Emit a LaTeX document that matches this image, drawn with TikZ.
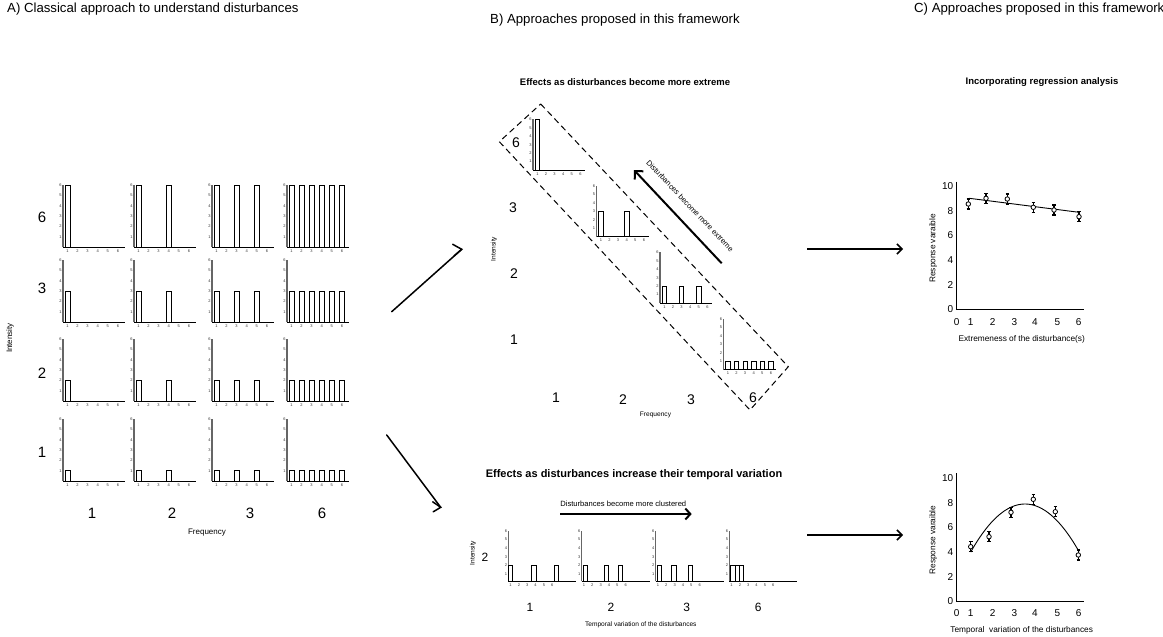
\documentclass[tikz,border=0pt]{standalone}
\usepackage{fontspec}
\setmainfont{Liberation Sans}
\usetikzlibrary{arrows.meta,calc}
\newcommand{\achart}[5]{% id, ox, oy, height, positions
  \draw[yax] (#2,#3) -- ++(0,-62);
  \draw[xax] (#2,#3) -- ++(62,0);
  \foreach \k in {1,...,6} {
    \node[tick,anchor=east] (#1y\k) at (#2-0.8,#3-\k*10.3) {\k};
    \node[tick,anchor=north] (#1x\k) at (#2+4.4+\k*10.1-10.1,#3+2) {\k};
  }
  \foreach \p in {#5} {
    \draw[barsty] (#2+1.9+\p*10.1-10.1,#3) rectangle ++(5,-#4*10.3);
  }
}
\newcommand{\bchart}[5]{% id, ox, oy, height, positions
  \draw[yax] (#2,#3) -- ++(0,-51);
  \draw[xax] (#2,#3) -- ++(52,0);
  \foreach \k in {1,...,6} {
    \node[tick,anchor=east] (#1y\k) at (#2-0.8,#3-\k*8.4) {\k};
    \node[tick,anchor=north] (#1x\k) at (#2+4.4+\k*8.6-8.6,#3+2) {\k};
  }
  \foreach \p in {#5} {
    \draw[barsty] (#2+2.25+\p*8.6-8.6,#3) rectangle ++(4.3,-#4*8.4);
  }
}
\newcommand{\cchart}[4]{% id, ox, oy, bar centre offsets
  \draw[yax] (#2,#3) -- ++(0,-50);
  \draw[xax] (#2,#3) -- ++(68,0);
  \foreach \k in {1,...,6} {
    \node[tick,anchor=east] (#1y\k) at (#2-0.8,#3-7-\k*8.6+8.6) {\k};
    \node[tick,anchor=north] (#1x\k) at (#2+2.3+\k*8.33-8.33,#3+2) {\k};
  }
  \foreach \p in {#4} {
    \draw[barsty] (#2+\p-2.15,#3) rectangle ++(4.3,-15.3);
  }
}
\begin{document}
\begin{tikzpicture}[x=1pt,y=-1pt,
  yax/.style={draw=black!60,line width=1.3pt},
  xax/.style={draw=black,line width=1pt},
  barsty/.style={draw=black,fill=white,line width=0.7pt},
  tick/.style={font=\fontsize{4}{4}\selectfont,text=black!80,inner sep=0.3pt},
  head/.style={font=\fontsize{13.2}{15}\selectfont,inner sep=0pt},
  ttl/.style={font=\bfseries\fontsize{9.5}{11}\selectfont,inner sep=0pt},
  big/.style={font=\fontsize{15}{16}\selectfont,inner sep=0pt},
  mid/.style={font=\fontsize{14}{15}\selectfont,inner sep=0pt},
  low/.style={font=\fontsize{12}{13}\selectfont,inner sep=0pt},
  lab/.style={font=\fontsize{7.6}{9}\selectfont,inner sep=0pt},
  clab/.style={font=\fontsize{8.3}{9}\selectfont,inner sep=0pt},
  small/.style={font=\fontsize{8}{9}\selectfont,inner sep=0pt},
  tiny/.style={font=\fontsize{6.6}{7}\selectfont,inner sep=0pt},
  axnum/.style={font=\fontsize{10}{11}\selectfont,inner sep=0pt},
  thickline/.style={line width=1.5pt,line cap=round},
  barb/.style={line width=1.5pt,-{Straight Barb[length=5pt,width=10pt]}},
  pt/.style={draw=black,fill=white,line width=0.8pt},
  err/.style={line width=1.1pt}
]
\useasboundingbox (0,0) rectangle (1163,637);

% ---------- headers ----------
\node[head,anchor=west] (hA) at (7,9) {A) Classical approach to understand disturbances};
\node[head,anchor=west] (hB) at (490,20) {B) Approaches proposed in this framework};
\node[head,anchor=west] (hC) at (914,9) {C) Approaches proposed in this framework};

% ---------- panel A ----------
\foreach \r/\h/\oy in {a/6/247,b/3/322,c/2/401,d/1/481} {
  \achart{A\r1}{63}{\oy}{\h}{1}
  \achart{A\r2}{134}{\oy}{\h}{1,4}
  \achart{A\r3}{212}{\oy}{\h}{1,3,5}
  \achart{A\r4}{287}{\oy}{\h}{1,2,3,4,5,6}
}
\node[big] (Ar6) at (42,217) {6};
\node[big] (Ar3) at (42,288) {3};
\node[big] (Ar2) at (42,373) {2};
\node[big] (Ar1) at (42,452) {1};
\node[big] (Ac1) at (92,513) {1};
\node[big] (Ac2) at (172,513) {2};
\node[big] (Ac3) at (250,513) {3};
\node[big] (Ac6) at (322,513) {6};
\node[small,rotate=90] (Aint) at (10,338) {Intensity};
\node[small] (Afreq) at (207,533) {Frequency};

% ---------- A -> B arrows ----------
\coordinate (m1s) at (391.7,311.7);
\coordinate (m1e) at (461.7,249.3);
\draw[thickline] (m1s) -- (m1e);
\draw[thickline] ($(m1e)+(-9,-5)$) -- (m1e) -- ($(m1e)+(-7.5,6.5)$);
\coordinate (m2s) at (386.7,435);
\coordinate (m2e) at (440.7,507.3);
\draw[thickline] (m2s) -- (m2e);
\draw[thickline] ($(m2e)+(-8,-5.5)$) -- (m2e) -- ($(m2e)+(-7.5,4.5)$);

% ---------- panel B top ----------
\node[ttl] (Bt1) at (625,82) {Effects as disturbances become more extreme};
\draw[dashed,line width=1pt,dash pattern=on 6pt off 4pt] (540.7,104) -- (788.3,366.7) -- (750,410) -- (499.3,141.7) -- cycle;
\bchart{B1}{533}{170}{6}{1}
\bchart{B2}{596.5}{236.5}{3}{1,4}
\bchart{B3}{660}{303}{2}{1,3,5}
\bchart{B4}{723.5}{369.5}{1}{1,2,3,4,5,6}
\node[mid] (Br6) at (516,143) {6};
\node[mid] (Br3) at (513,208) {3};
\node[mid] (Br2) at (514,274) {2};
\node[mid] (Br1) at (514,340) {1};
\node[mid] (Bc1) at (556,398) {1};
\node[mid] (Bc2) at (623,400) {2};
\node[mid] (Bc3) at (691,400) {3};
\node[mid] (Bc6) at (753,398) {6};
\node[tiny] (Bfreq) at (655.5,415) {Frequency};
\node[tiny,rotate=90] (Bint1) at (494,249) {Intensity};
\coordinate (ex1) at (721.7,263.3);
\coordinate (ex2) at (634,170);
\draw[line width=2pt,-{Straight Barb[length=6pt,width=12pt]}] (ex1) -- (ex2);
\node[lab,rotate=-46.5] (Bext) at (690,206) {Disturbances become more extreme};

% ---------- panel B bottom ----------
\node[ttl,font=\bfseries\fontsize{11}{12}\selectfont] (Bt2) at (634,475) {Effects as disturbances increase their temporal variation};
\node[lab] (Bclu) at (623.3,503.3) {Disturbances become more clustered};
\coordinate (cl1) at (560,514);
\coordinate (cl2) at (691.7,514);
\draw[line width=2pt,-{Straight Barb[length=5pt,width=11pt]}] (cl1) -- (cl2);
\cchart{C1}{508.3}{581}{2.2,25.5,47.8}
\cchart{C2}{581.7}{581}{3.3,24.8,38.8}
\cchart{C3}{655.7}{581}{3.3,18.2,34.8}
\cchart{C4}{729.3}{581}{3.5,7.8,12.1}
\node[low] (Cr2) at (485,557) {2};
\node[low] (Cc1) at (530,607) {1};
\node[low] (Cc2) at (611,607) {2};
\node[low] (Cc3) at (686.7,607) {3};
\node[low] (Cc6) at (758.3,607) {6};
\node[tiny,rotate=90] (Bint2) at (473,553) {Intensity};
\node[tiny] (Ctemp) at (640.8,625) {Temporal variation of the disturbances};

% ---------- B -> C arrows ----------
\coordinate (r1s) at (807,249);
\coordinate (r1e) at (903,249);
\draw[barb] (r1s) -- (r1e);
\coordinate (r2s) at (807,535);
\coordinate (r2e) at (903,535);
\draw[barb] (r2s) -- (r2e);

% ---------- panel C top ----------
\node[ttl] (Dt1) at (1042,82) {Incorporating regression analysis};
\coordinate (d1o) at (956.7,309.3);
\draw[line width=1pt] (956.7,181.7) -- (d1o) -- (1084.3,309.3);
\foreach \v in {0,2,4,6,8,10} {
  \node[axnum,anchor=east] (d1y\v) at (953.5,309.3-\v*12.33) {\v};
}
\foreach \v/\x in {0/956.7,1/970.7,2/992.7,3/1014.3,4/1035,5/1057.3,6/1078.7} {
  \node[axnum] (d1x\v) at (\x,321.7) {\v};
}
\draw[line width=0.9pt] (969.3,198.3) -- (1079,212.3);
\foreach \x/\y [count=\i] in {968.3/204,986/198.3,1007.3/199,1033.3/207.3,1054/210,1079/216.7} {
  \draw[err] (\x,\y-5) -- (\x,\y+5);
  \draw[err] (\x-1.8,\y-5) -- (\x+1.8,\y-5);
  \draw[err] (\x-1.8,\y+5) -- (\x+1.8,\y+5);
  \node[pt,circle,inner sep=0pt,minimum size=4.5pt] (d1p\i) at (\x,\y) {};
}
\node[clab,rotate=90] (d1yl) at (933.3,248.3) {Response varaible};
\node[clab] (d1xl) at (1021.7,339) {Extremeness of the disturbance(s)};

% ---------- panel C bottom ----------
\coordinate (d2o) at (956.7,601.3);
\draw[line width=1pt] (956.7,473.3) -- (d2o) -- (1084.3,601.3);
\foreach \v in {0,2,4,6,8,10} {
  \node[axnum,anchor=east] (d2y\v) at (953.5,601.3-\v*12.33) {\v};
}
\foreach \v/\x in {0/956.7,1/970.7,2/992.7,3/1014.3,4/1035,5/1057.3,6/1078.7} {
  \node[axnum] (d2x\v) at (\x,613.3) {\v};
}
\draw[line width=0.9pt] plot[domain=970.7:1079,samples=60] (\x,{504+0.0163*(\x-1025)*(\x-1025)});
\foreach \x/\y [count=\i] in {970.7/546.7,989/536.7,1011/512.3,1033.3/499.3,1055.3/511.7,1078.3/555} {
  \draw[err] (\x,\y-5) -- (\x,\y+5);
  \draw[err] (\x-1.8,\y-5) -- (\x+1.8,\y-5);
  \draw[err] (\x-1.8,\y+5) -- (\x+1.8,\y+5);
  \node[pt,circle,inner sep=0pt,minimum size=4.5pt] (d2p\i) at (\x,\y) {};
}
\node[clab,rotate=90] (d2yl) at (933.3,540) {Response varaible};
\node[clab] (d2xl) at (1021.7,630) {Temporal\ \ variation of the disturbances};
\end{tikzpicture}
\end{document}
